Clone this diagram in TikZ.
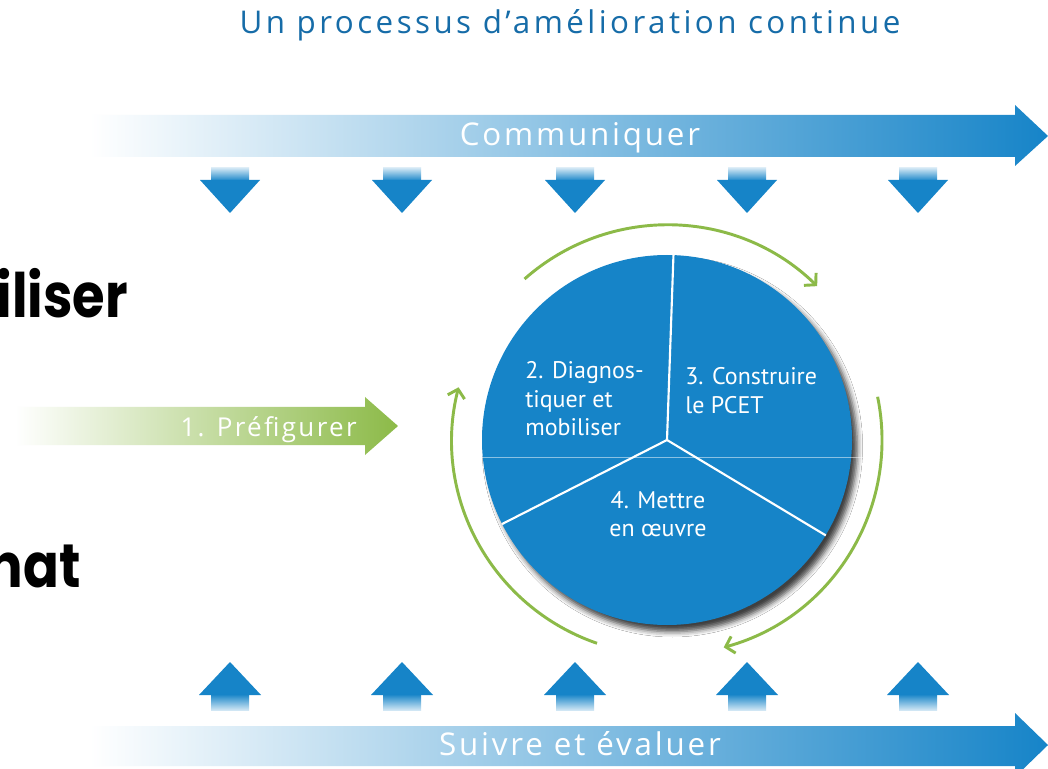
\documentclass[tikz,border=0pt]{standalone}
\usepackage{fontspec}
\setmainfont{PT Sans}
\newfontfamily\bandfont[LetterSpace=9]{Open Sans}
\newfontfamily\titlefont[LetterSpace=11]{Open Sans}
\newfontfamily\bigfont[FakeStretch=0.86]{Poppins}
\usetikzlibrary{arrows.meta,shadows.blur}

\definecolor{pcetblue}{RGB}{22,132,200}
\definecolor{pcettitle}{RGB}{22,108,168}
\definecolor{pcetgreen}{RGB}{140,186,72}

\begin{document}
\begin{tikzpicture}[x=0.75pt, y=0.75pt,
    bandtext/.style={text=white, font=\bandfont\fontsize{23.5}{27}\selectfont, inner sep=0pt},
    disctext/.style={text=white, font=\fontsize{18}{21.5}\selectfont, inner sep=0pt, align=left},
    cyclearrow/.style={draw=pcetgreen, line width=2.2pt, -{Straight Barb[length=6pt, width=13pt]}}]
    \clip (0,0) rectangle (1048,768);
    \fill[white] (0,0) rectangle (1048,768);

    % Title
    \node[anchor=base, text=pcettitle, font=\titlefont\fontsize{23.5}{27}\selectfont] (title) at (570,734) {Un processus d’amélioration continue};

    % Communiquer
    \shade[left color=white, middle color=pcetblue!65, right color=pcetblue]
        (90,653) -- (1015,653) -- (1015,663) -- (1048,632) -- (1015,602) -- (1015,611) -- (90,611) -- cycle;
    \node[bandtext, anchor=base] (comm) at (580,622) {Communiquer};
    \foreach \x in {230,402,575,747,918} {
        \shade[top color=pcetblue!20, bottom color=pcetblue] (\x-19,600) rectangle (\x+19,587);
        \fill[pcetblue] (\x-30,588) -- (\x+30,588) -- (\x,555) -- cycle;
    }

    % Suivre et evaluer
    \shade[left color=white, middle color=pcetblue!65, right color=pcetblue]
        (90,42) -- (1015,42) -- (1015,55) -- (1048,23) -- (1015,-9) -- (1015,2) -- (90,2) -- cycle;
    \node[bandtext, anchor=base] (suivre) at (580,13) {Suivre et évaluer};
    \foreach \x in {230,402,575,747,918} {
        \shade[top color=pcetblue, bottom color=pcetblue!20] (\x-19,74) rectangle (\x+19,58);
        \fill[pcetblue] (\x-31,73) -- (\x+31,73) -- (\x,106) -- cycle;
    }

    % Prefigurer
    \shade[left color=white, middle color=pcetgreen!55, right color=pcetgreen]
        (15,361) -- (365,361) -- (365,371) -- (398,342) -- (365,313) -- (365,323) -- (15,323) -- cycle;
    \node[bandtext, anchor=base east, font=\bandfont\fontsize{19.5}{23}\selectfont] (pref) at (357,331) {1. Préfigurer};

    % Cut-off slide text
    \node[anchor=base east, inner sep=0pt, font=\bigfont\bfseries\fontsize{46}{50}\selectfont] (mob) at (128,450) {iliser};
    \node[anchor=base east, inner sep=0pt, font=\bigfont\bfseries\fontsize{46}{50}\selectfont] (nat) at (81,181) {nat};

    % Disc
    \node[circle, fill=pcetblue, minimum size=277.5pt, inner sep=0pt,
        blur shadow={shadow xshift=4pt, shadow yshift=-5pt, shadow blur radius=4pt, shadow opacity=75}] (disc) at (667,328) {};
    \draw[white, line width=1.6pt] (disc.center) -- (disc.88.5);
    \draw[white, line width=1.6pt] (disc.center) -- (disc.207.7);
    \draw[white, line width=1.6pt] (disc.center) -- (disc.-31);
    \draw[white, opacity=0.5, line width=0.4pt] (440,311) -- (880,311);
    \node[disctext, anchor=north west] (diag) at (525,407) {2. Diagnos-\\tiquer et\\mobiliser};
    \node[disctext, anchor=north west] (constr) at (685,401) {3. Construire\\le PCET};
    \node[disctext, anchor=north, align=center] (mettre) at (658,277) {4. Mettre\\en œuvre};

    % Cycle
    \draw[cyclearrow] ([shift={(131.5:215)}]disc.center) arc[start angle=131.5, end angle=45.7, radius=215];
    \draw[cyclearrow] ([shift={(11.6:215)}]disc.center) arc[start angle=11.6, end angle=-74.7, radius=215];
    \draw[cyclearrow] ([shift={(251:215)}]disc.center) arc[start angle=251, end angle=165.8, radius=215];
\end{tikzpicture}
\end{document}
